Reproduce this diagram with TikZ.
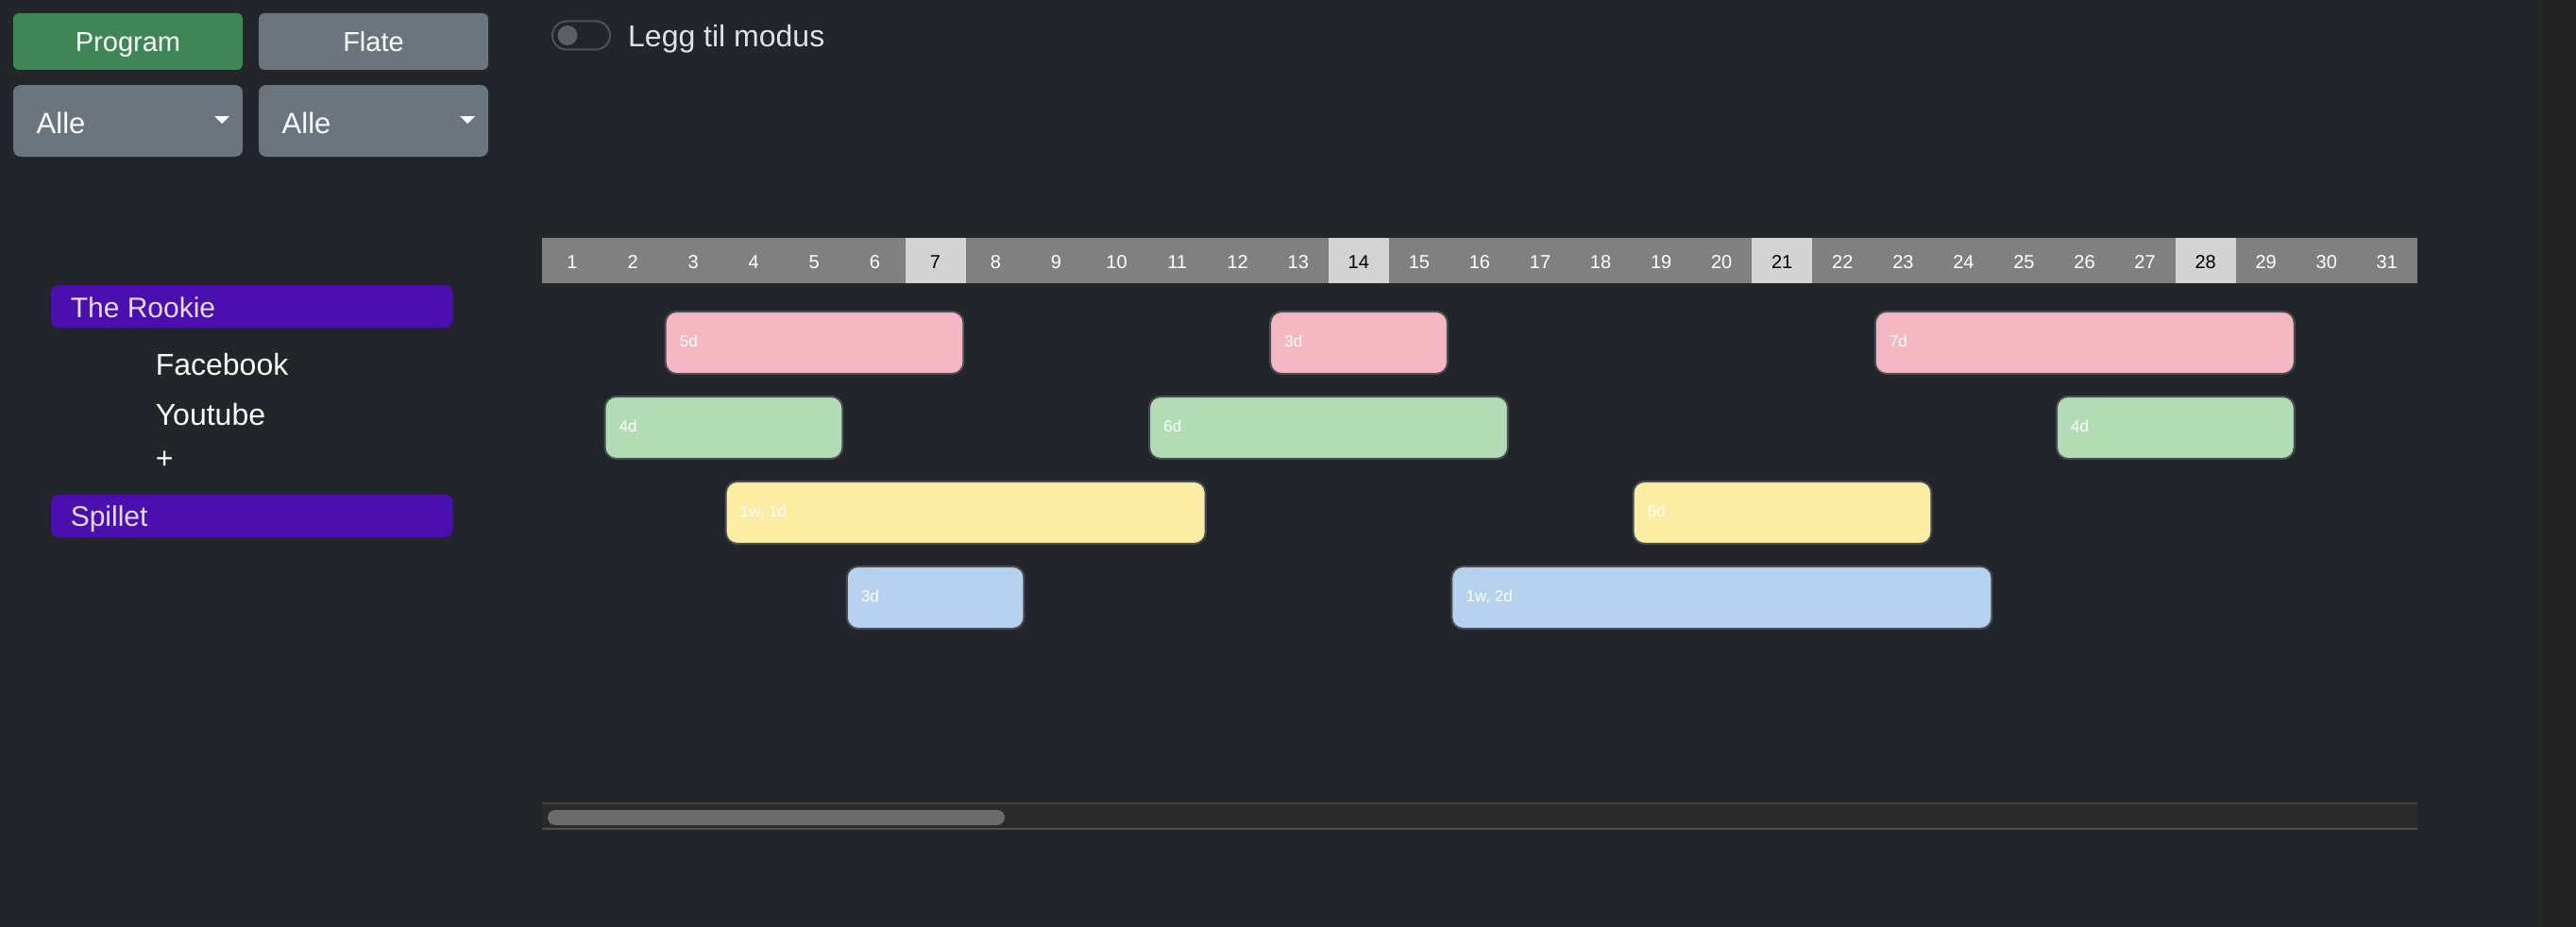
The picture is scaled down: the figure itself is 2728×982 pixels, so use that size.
\documentclass[tikz,border=0pt]{standalone}
\usepackage{fontspec}
\setmainfont{Liberation Sans}
\definecolor{bg}{HTML}{222529}
\definecolor{strip}{HTML}{232323}
\definecolor{btngreen}{HTML}{3F8657}
\definecolor{btngray}{HTML}{6C757D}
\definecolor{purplebar}{HTML}{4A0FAE}
\definecolor{purpletext}{HTML}{E3DCF0}
\definecolor{uitext}{HTML}{DEE2E6}
\definecolor{hdrgray}{HTML}{808080}
\definecolor{hdrlight}{HTML}{D3D3D3}
\definecolor{pinkbar}{HTML}{F4B8C3}
\definecolor{greenbar}{HTML}{B2DCB4}
\definecolor{yellowbar}{HTML}{FCECA4}
\definecolor{bluebar}{HTML}{B6D2EE}
\definecolor{barborder}{HTML}{494E55}
\definecolor{track}{HTML}{2A2A2A}
\definecolor{trackline}{HTML}{424242}
\definecolor{tracklinebot}{HTML}{4F4F4F}
\definecolor{thumb}{HTML}{6B6B6B}
\definecolor{toggleline}{HTML}{4D5258}
\definecolor{knob}{HTML}{5C6066}
\begin{document}
\begin{tikzpicture}[x=1pt,y=-1pt,
  btntext/.style={text=white, font=\fontsize{29}{34}\selectfont, inner sep=0pt},
  ddtext/.style={text=white, font=\fontsize{31}{36}\selectfont, inner sep=0pt},
  sidebar/.style={fill=purplebar, rounded corners=8pt},
  sidetext/.style={text=purpletext, font=\fontsize{30}{36}\selectfont, inner sep=0pt, anchor=base west},
  chantext/.style={text=white, font=\fontsize{32}{38}\selectfont, inner sep=0pt, anchor=base west},
  daycell/.style={inner sep=0pt, minimum width=64.06pt, minimum height=48pt, anchor=north west},
  daytext/.style={font=\fontsize{20}{24}\selectfont, inner sep=0pt, anchor=base},
  gbar/.style={draw=barborder, line width=2pt, rounded corners=12pt, minimum height=66pt, inner sep=0pt, anchor=north west},
  glabel/.style={text=white, font=\fontsize{17}{20}\selectfont, inner sep=0pt, anchor=base west}
]
\fill[bg] (0,0) rectangle (2728,982);
\useasboundingbox (0,0) rectangle (2728,982);
\fill[strip] (2692,0) rectangle (2728,982);

% top buttons
\fill[btngreen, rounded corners=6pt] (14,14) rectangle (257,74);
\node[btntext, anchor=base] (prog) at (135.5,55) {Program};
\fill[btngray, rounded corners=6pt] (274,14) rectangle (517,74);
\node[btntext, anchor=base] (flate) at (395.5,55) {Flate};

% dropdowns
\fill[btngray, rounded corners=8pt] (14,90) rectangle (257,166);
\node[ddtext, anchor=base west] (alle1) at (38.5,141.5) {Alle};
\fill[white] (227,123) -- (243,123) -- (235,131) -- cycle;
\fill[btngray, rounded corners=8pt] (274,90) rectangle (517,166);
\node[ddtext, anchor=base west] (alle2) at (298.5,141.5) {Alle};
\fill[white] (487,123) -- (503,123) -- (495,131) -- cycle;

% toggle
\draw[toggleline, line width=2pt, rounded corners=15pt] (585,22.5) rectangle (646,52.5);
\fill[knob] (601,37.5) circle (10.5);
\node[text=uitext, font=\fontsize{32}{38}\selectfont, inner sep=0pt, anchor=base west] (legg) at (665,50) {Legg til modus};

% sidebar
\fill[sidebar] (54,302) rectangle (479.5,347);
\node[sidetext] (rookie) at (74.6,336) {The Rookie};
\node[chantext] (fb) at (164.6,397) {Facebook};
\node[chantext] (yt) at (164.6,450) {Youtube};
\node[chantext] (plus) at (164.6,496) {+};
\fill[sidebar] (54,524) rectangle (479.5,569);
\node[sidetext] (spillet) at (74.6,557) {Spillet};

% day header
\foreach \i in {1,...,31}{
  \pgfmathsetmacro{\xc}{574+(\i-1)*64.06}
  \pgfmathtruncatemacro{\wk}{mod(\i,7)==0 ? 1 : 0}
  \ifnum\wk=1
    \node[daycell, fill=hdrlight] (c\i) at (\xc,252) {};
    \node[daytext, text=black] (d\i) at (\xc+32.03,284) {\i};
  \else
    \node[daycell, fill=hdrgray] (c\i) at (\xc,252) {};
    \node[daytext, text=white] (d\i) at (\xc+32.03,284) {\i};
  \fi
}

% gantt bars
\foreach \n/\r/\s/\e/\c/\t in {
  pa/1/3/7/pinkbar/5d, pb/1/13/15/pinkbar/3d, pc/1/23/29/pinkbar/7d,
  ga/2/2/5/greenbar/4d, gb/2/11/16/greenbar/6d, gc/2/26/29/greenbar/4d,
  ya/3/4/11/yellowbar/{1w, 1d}, yb/3/19/23/yellowbar/5d,
  ba/4/6/8/bluebar/3d, bb/4/16/24/bluebar/{1w, 2d}}{
  \pgfmathsetmacro{\xs}{574+(\s-1)*64.06+1.5}
  \pgfmathsetmacro{\bw}{(\e-\s+1)*64.06-4.5}
  \pgfmathsetmacro{\yt}{329+(\r-1)*90}
  \node[gbar, fill=\c, minimum width=\bw pt] (\n) at (\xs,\yt) {};
  \node[glabel] (\n l) at (\xs+16,\yt+38.3) {\t};
}

% scrollbar
\fill[track] (574,850) rectangle (2560,879);
\draw[trackline, line width=2pt] (574,851) -- (2560,851);
\draw[tracklinebot, line width=2pt] (574,878) -- (2560,878);
\fill[thumb, rounded corners=8pt] (580,858) rectangle (1064,874);
\end{tikzpicture}
\end{document}
